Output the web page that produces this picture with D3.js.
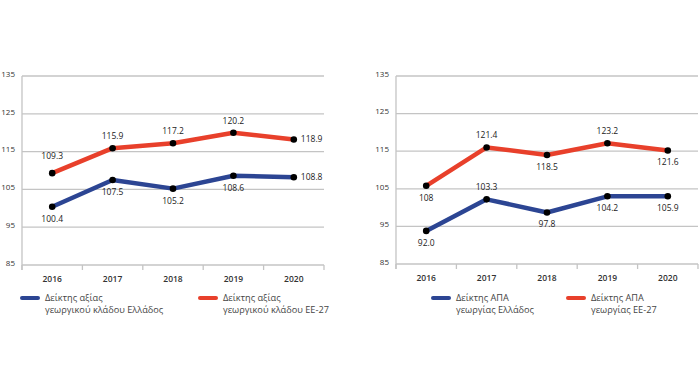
<!doctype html>
<html>
<head>
<meta charset="utf-8">
<script src="https://d3js.org/d3.v7.min.js"></script>
<style>
  body { margin: 0; background: #fff; }
  text { font-family: "Open Sans", "DejaVu Sans", sans-serif; }
</style>
</head>
<body>
<div id="viz"></div>
<script>

var years = ['2016', '2017', '2018', '2019', '2020']
var yTicks = [85, 95, 105, 115, 125, 135]

// left chart: value index of the farm sector
var valueGreece = [100.4, 107.5, 105.2, 108.6, 108.2]
var valueEU = [109.3, 115.9, 117.2, 120.0, 118.2]
var valueGreeceLabels = ['100.4', '107.5', '105.2', '108.6', '108.8']
var valueEULabels = ['109.3', '115.9', '117.2', '120.2', '118.9']
var valueGreecePos = ['below', 'below', 'below', 'below', 'right']
var valueEUPos = ['above2', 'above', 'above', 'above', 'right']

// right chart: GVA index (points drawn where the picture draws them)
var gvaGreece = [93.8, 102.2, 98.7, 103.0, 103.0]
var gvaEU = [105.8, 116.0, 114.0, 117.1, 115.2]
var gvaGreeceLabels = ['92.0', '103.3', '97.8', '104.2', '105.9']
var gvaEULabels = ['108', '121.4', '118.5', '123.2', '121.6']
var gvaGreecePos = ['below', 'above', 'below', 'below', 'below']
var gvaEUPos = ['below', 'above', 'below', 'above', 'below']

var blue = '#2c4593', red = '#e8402b'

var svg = d3.select('#viz').append('svg')
  .attr('width', 700)
  .attr('height', 385)

var drawChart = function(opt) {
  var x = d3.scaleBand().domain(years).range([opt.x0, opt.x1])
  var y = d3.scaleLinear().domain([85, 135]).range([opt.y1, opt.y0])
  var g = svg.append('g')

  g.selectAll('.grid')
    .data(yTicks)
    .enter()
    .append('line')
    .attr('x1', opt.x0)
    .attr('x2', opt.x1)
    .attr('y1', function(d) { return y(d); })
    .attr('y2', function(d) { return y(d); })
    .style('stroke', '#c4c4c4')
    .style('stroke-width', 1.3)

  g.append('line')
    .attr('x1', opt.x0).attr('x2', opt.x0)
    .attr('y1', y(135)).attr('y2', y(85) + 5)
    .style('stroke', '#c4c4c4')
    .style('stroke-width', 1.3)

  // tick marks below the axis
  var edges = years.map(function(d) { return x(d); }).concat([opt.x1])
  g.selectAll('.tick')
    .data(edges)
    .enter()
    .append('line')
    .attr('x1', function(d) { return d; })
    .attr('x2', function(d) { return d; })
    .attr('y1', y(85))
    .attr('y2', y(85) + 5)
    .style('stroke', '#c4c4c4')
    .style('stroke-width', 1.3)

  g.selectAll('.ylab')
    .data(yTicks)
    .enter()
    .append('text')
    .attr('x', opt.x0 - 7)
    .attr('y', function(d) { return y(d); })
    .attr('dy', '0.1em')
    .attr('text-anchor', 'end')
    .style('font-size', '8px')
    .style('fill', '#333')
    .text(function(d) { return d; })

  g.selectAll('.xlab')
    .data(years)
    .enter()
    .append('text')
    .attr('x', function(d) { return x(d) + x.bandwidth() / 2; })
    .attr('y', y(85) + 17)
    .attr('text-anchor', 'middle')
    .style('font-size', '8.5px')
    .style('font-weight', 600)
    .style('fill', '#333')
    .text(function(d) { return d; })

  var line = d3.line()
    .x(function(d, i) { return x(years[i]) + x.bandwidth() / 2; })
    .y(function(d) { return y(d); })

  opt.series.forEach(function(s) {
    g.append('path')
      .datum(s.values)
      .attr('d', line)
      .style('fill', 'none')
      .style('stroke', s.color)
      .style('stroke-width', 4.5)
      .style('stroke-linejoin', 'round')

    g.selectAll(null)
      .data(s.values)
      .enter()
      .append('circle')
      .attr('r', 3.3)
      .style('fill', '#000')
      .attr('cx', function(d, i) { return x(years[i]) + x.bandwidth() / 2; })
      .attr('cy', function(d) { return y(d); })

    g.selectAll(null)
      .data(s.values)
      .enter()
      .append('text')
      .attr('x', function(d, i) {
        var cx = x(years[i]) + x.bandwidth() / 2
        return s.pos[i] == 'right' ? cx + 7 : cx
      })
      .attr('y', function(d, i) {
        var p = s.pos[i]
        if (p == 'above') return y(d) - 12
        if (p == 'above2') return y(d) - 17
        if (p == 'below') return y(d) + 12
        return y(d)
      })
      .attr('dy', '0.35em')
      .attr('text-anchor', function(d, i) { return s.pos[i] == 'right' ? 'start' : 'middle'; })
      .style('font-size', '8.5px')
      .style('fill', '#222')
      .text(function(d, i) { return s.labels[i]; })

  })

  opt.legend.forEach(function(l) {
    g.append('line')
      .attr('x1', l.x).attr('x2', l.x + 16)
      .attr('y1', 298).attr('y2', 298)
      .style('stroke', l.color)
      .style('stroke-width', 4)
      .style('stroke-linecap', 'round')
    l.lines.forEach(function(t, i) {
      g.append('text')
        .attr('x', l.x + 23)
        .attr('y', 301 + i * 11.5)
        .style('font-size', '9.2px')
        .style('fill', '#444')
        .text(t)
    })
  })
}

drawChart({
  x0: 22, x1: 324, y0: 76, y1: 265,
  series: [
    { values: valueGreece, labels: valueGreeceLabels, pos: valueGreecePos, color: blue },
    { values: valueEU, labels: valueEULabels, pos: valueEUPos, color: red }
  ],
  legend: [
    { x: 22, color: blue, lines: ['Δείκτης αξίας', 'γεωργικού κλάδου Ελλάδος'] },
    { x: 200, color: red, lines: ['Δείκτης αξίας', 'γεωργικού κλάδου ΕΕ-27'] }
  ]
})

drawChart({
  x0: 396, x1: 698, y0: 76, y1: 264,
  series: [
    { values: gvaGreece, labels: gvaGreeceLabels, pos: gvaGreecePos, color: blue },
    { values: gvaEU, labels: gvaEULabels, pos: gvaEUPos, color: red }
  ],
  legend: [
    { x: 433, color: blue, lines: ['Δείκτης ΑΠΑ', 'γεωργίας Ελλάδος'] },
    { x: 568, color: red, lines: ['Δείκτης ΑΠΑ', 'γεωργίας ΕΕ-27'] }
  ]
})

</script>
</body>
</html>
